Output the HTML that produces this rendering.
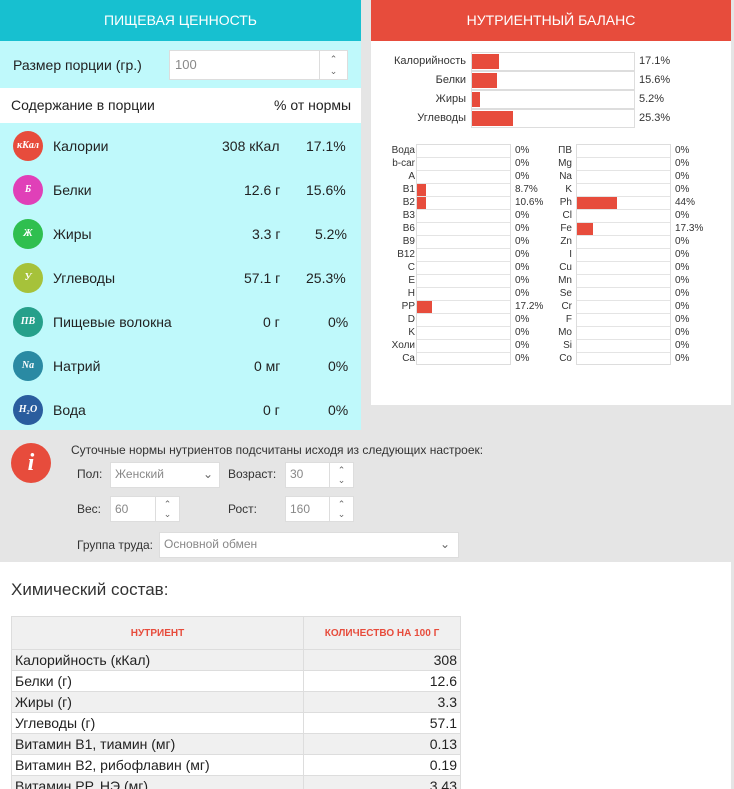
<!DOCTYPE html>
<html><head><meta charset="utf-8"><style>
*{margin:0;padding:0;box-sizing:border-box}
html,body{width:734px;height:789px;overflow:hidden}
body{background:#e5e5e5;font-family:"Liberation Sans","Noto Sans CJK SC",sans-serif;color:#222;position:relative}
.a{position:absolute}
.lp{left:0;top:0;width:361px;height:430px;background:#bff9fb}
.lh{left:0;top:0;width:361px;height:41px;background:#17c0d0;color:#fff;font-size:14px;text-align:center;line-height:41px}
.rp{left:371px;top:0;width:360px;height:405px;background:#fff}
.rh{left:371px;top:0;width:360px;height:41px;background:#e74c3c;color:#fff;font-size:14px;text-align:center;line-height:41px}
.ic{width:30px;height:30px;border-radius:50%;color:#fff;font-family:"Liberation Serif",serif;font-style:italic;font-weight:bold;font-size:10px;text-align:center;line-height:30px}
.rw{font-size:14px}
.box{border:1px solid #ddd;background:#fff}
.bar{background:#e74c3c;position:absolute;left:0;top:1px;bottom:1px}
.sl{font-size:11px;color:#333;text-align:right}
.sm{font-size:10px;color:#333}
.inp{background:#fff;border:1px solid #ddd;font-size:13px;color:#888}
.spin{position:absolute;right:0;top:0;bottom:0;border-left:1px solid #ddd;font-size:9px;color:#666;text-align:center;line-height:12px;padding-top:2px}
table{border-collapse:collapse}
td{border:1px solid #ddd;font-size:14px;height:21px;line-height:19px;padding:0 3px;white-space:nowrap}
</style></head><body>
<div class="a lp"></div>
<div class="a lh">ПИЩЕВАЯ ЦЕННОСТЬ</div>
<div class="a" style="left:13px;top:57px;font-size:14px">Размер порции (гр.)</div>
<div class="a inp" style="left:169px;top:50px;width:179px;height:30px;line-height:28px;padding-left:5px">100<div class="spin" style="width:28px">⌃<br>⌄</div></div>
<div class="a" style="left:0;top:88px;width:361px;height:35px;background:#fff"></div>
<div class="a" style="left:11px;top:97px;font-size:14px">Содержание в порции</div>
<div class="a" style="left:274px;top:97px;font-size:14px">% от нормы</div>

<div class="a ic" style="left:13px;top:131px;background:#e74c3c">кКал</div>
<div class="a rw" style="left:53px;top:138px">Калории</div><div class="a rw" style="left:222px;top:138px">308 кКал</div><div class="a rw" style="left:306px;top:138px">17.1%</div>
<div class="a ic" style="left:13px;top:175px;background:#e040b8">Б</div>
<div class="a rw" style="left:53px;top:182px">Белки</div><div class="a rw" style="left:244px;top:182px">12.6 г</div><div class="a rw" style="left:306px;top:182px">15.6%</div>
<div class="a ic" style="left:13px;top:219px;background:#2fbf4f">Ж</div>
<div class="a rw" style="left:53px;top:226px">Жиры</div><div class="a rw" style="left:252px;top:226px">3.3 г</div><div class="a rw" style="left:315px;top:226px">5.2%</div>
<div class="a ic" style="left:13px;top:263px;background:#a6c23a">У</div>
<div class="a rw" style="left:53px;top:270px">Углеводы</div><div class="a rw" style="left:244px;top:270px">57.1 г</div><div class="a rw" style="left:306px;top:270px">25.3%</div>
<div class="a ic" style="left:13px;top:307px;background:#26a08a">ПВ</div>
<div class="a rw" style="left:53px;top:314px">Пищевые волокна</div><div class="a rw" style="left:263px;top:314px">0 г</div><div class="a rw" style="left:328px;top:314px">0%</div>
<div class="a ic" style="left:13px;top:351px;background:#2a8aa3">Na</div>
<div class="a rw" style="left:53px;top:358px">Натрий</div><div class="a rw" style="left:254px;top:358px">0 мг</div><div class="a rw" style="left:328px;top:358px">0%</div>
<div class="a ic" style="left:13px;top:395px;background:#2a5d9e">H₂O</div>
<div class="a rw" style="left:53px;top:402px">Вода</div><div class="a rw" style="left:263px;top:402px">0 г</div><div class="a rw" style="left:328px;top:402px">0%</div>

<div class="a rp"></div>
<div class="a rh">НУТРИЕНТНЫЙ БАЛАНС</div>
<div class="a sl" style="left:371px;top:55px;width:95px">Калорийность</div><div class="a box" style="left:471px;top:52px;width:164px;height:19px"><div class="bar" style="width:27px"></div></div><div class="a sl" style="left:639px;top:55px">17.1%</div>
<div class="a sl" style="left:371px;top:74px;width:95px">Белки</div><div class="a box" style="left:471px;top:71px;width:164px;height:19px"><div class="bar" style="width:25px"></div></div><div class="a sl" style="left:639px;top:74px">15.6%</div>
<div class="a sl" style="left:371px;top:93px;width:95px">Жиры</div><div class="a box" style="left:471px;top:90px;width:164px;height:19px"><div class="bar" style="width:8px"></div></div><div class="a sl" style="left:639px;top:93px">5.2%</div>
<div class="a sl" style="left:371px;top:112px;width:95px">Углеводы</div><div class="a box" style="left:471px;top:109px;width:164px;height:19px"><div class="bar" style="width:41px"></div></div><div class="a sl" style="left:639px;top:112px">25.3%</div>

<div class="a" style="left:371px;top:144px;width:360px">
<div style="position:absolute;left:0;top:0;width:44px" class="sm">
<div style="height:13px;line-height:13px;text-align:right">Вода</div><div style="height:13px;line-height:13px;text-align:right;overflow:hidden;white-space:nowrap">b-car</div><div style="height:13px;line-height:13px;text-align:right">A</div><div style="height:13px;line-height:13px;text-align:right">B1</div><div style="height:13px;line-height:13px;text-align:right">B2</div><div style="height:13px;line-height:13px;text-align:right">B3</div><div style="height:13px;line-height:13px;text-align:right">B6</div><div style="height:13px;line-height:13px;text-align:right">B9</div><div style="height:13px;line-height:13px;text-align:right">B12</div><div style="height:13px;line-height:13px;text-align:right">C</div><div style="height:13px;line-height:13px;text-align:right">E</div><div style="height:13px;line-height:13px;text-align:right">H</div><div style="height:13px;line-height:13px;text-align:right">PP</div><div style="height:13px;line-height:13px;text-align:right">D</div><div style="height:13px;line-height:13px;text-align:right">K</div><div style="height:13px;line-height:13px;text-align:right">Холи</div><div style="height:13px;line-height:13px;text-align:right">Ca</div>
</div>
<div style="position:absolute;left:144px;top:0;width:57px" class="sm">
<div style="height:13px;line-height:13px;text-align:right">ПВ</div><div style="height:13px;line-height:13px;text-align:right">Mg</div><div style="height:13px;line-height:13px;text-align:right">Na</div><div style="height:13px;line-height:13px;text-align:right">K</div><div style="height:13px;line-height:13px;text-align:right">Ph</div><div style="height:13px;line-height:13px;text-align:right">Cl</div><div style="height:13px;line-height:13px;text-align:right">Fe</div><div style="height:13px;line-height:13px;text-align:right">Zn</div><div style="height:13px;line-height:13px;text-align:right">I</div><div style="height:13px;line-height:13px;text-align:right">Cu</div><div style="height:13px;line-height:13px;text-align:right">Mn</div><div style="height:13px;line-height:13px;text-align:right">Se</div><div style="height:13px;line-height:13px;text-align:right">Cr</div><div style="height:13px;line-height:13px;text-align:right">F</div><div style="height:13px;line-height:13px;text-align:right">Mo</div><div style="height:13px;line-height:13px;text-align:right">Si</div><div style="height:13px;line-height:13px;text-align:right">Co</div>
</div>
<svg style="position:absolute;left:0;top:0" width="360" height="222">
<g fill="#fff" stroke="#ddd" stroke-width="1">
<rect x="45.5" y="0.5" width="94" height="220"/><rect x="205.5" y="0.5" width="94" height="220"/>
</g>
<g stroke="#e4e4e4"><line x1="46" x2="139" y1="13.5" y2="13.5"/><line x1="46" x2="139" y1="26.5" y2="26.5"/><line x1="46" x2="139" y1="39.5" y2="39.5"/><line x1="46" x2="139" y1="52.5" y2="52.5"/><line x1="46" x2="139" y1="65.5" y2="65.5"/><line x1="46" x2="139" y1="78.5" y2="78.5"/><line x1="46" x2="139" y1="91.5" y2="91.5"/><line x1="46" x2="139" y1="104.5" y2="104.5"/><line x1="46" x2="139" y1="117.5" y2="117.5"/><line x1="46" x2="139" y1="130.5" y2="130.5"/><line x1="46" x2="139" y1="143.5" y2="143.5"/><line x1="46" x2="139" y1="156.5" y2="156.5"/><line x1="46" x2="139" y1="169.5" y2="169.5"/><line x1="46" x2="139" y1="182.5" y2="182.5"/><line x1="46" x2="139" y1="195.5" y2="195.5"/><line x1="46" x2="139" y1="208.5" y2="208.5"/>
<line x1="206" x2="299" y1="13.5" y2="13.5"/><line x1="206" x2="299" y1="26.5" y2="26.5"/><line x1="206" x2="299" y1="39.5" y2="39.5"/><line x1="206" x2="299" y1="52.5" y2="52.5"/><line x1="206" x2="299" y1="65.5" y2="65.5"/><line x1="206" x2="299" y1="78.5" y2="78.5"/><line x1="206" x2="299" y1="91.5" y2="91.5"/><line x1="206" x2="299" y1="104.5" y2="104.5"/><line x1="206" x2="299" y1="117.5" y2="117.5"/><line x1="206" x2="299" y1="130.5" y2="130.5"/><line x1="206" x2="299" y1="143.5" y2="143.5"/><line x1="206" x2="299" y1="156.5" y2="156.5"/><line x1="206" x2="299" y1="169.5" y2="169.5"/><line x1="206" x2="299" y1="182.5" y2="182.5"/><line x1="206" x2="299" y1="195.5" y2="195.5"/><line x1="206" x2="299" y1="208.5" y2="208.5"/></g>
<g fill="#e74c3c"><rect x="46" y="40" width="9" height="12"/><rect x="46" y="53" width="9" height="12"/><rect x="46" y="157" width="15" height="12"/><rect x="206" y="53" width="40" height="12"/><rect x="206" y="79" width="16" height="12"/></g>
</svg>
<div style="position:absolute;left:144px;top:0" class="sm">
<div style="height:13px;line-height:13px">0%</div><div style="height:13px;line-height:13px">0%</div><div style="height:13px;line-height:13px">0%</div><div style="height:13px;line-height:13px">8.7%</div><div style="height:13px;line-height:13px">10.6%</div><div style="height:13px;line-height:13px">0%</div><div style="height:13px;line-height:13px">0%</div><div style="height:13px;line-height:13px">0%</div><div style="height:13px;line-height:13px">0%</div><div style="height:13px;line-height:13px">0%</div><div style="height:13px;line-height:13px">0%</div><div style="height:13px;line-height:13px">0%</div><div style="height:13px;line-height:13px">17.2%</div><div style="height:13px;line-height:13px">0%</div><div style="height:13px;line-height:13px">0%</div><div style="height:13px;line-height:13px">0%</div><div style="height:13px;line-height:13px">0%</div>
</div>
<div style="position:absolute;left:304px;top:0" class="sm">
<div style="height:13px;line-height:13px">0%</div><div style="height:13px;line-height:13px">0%</div><div style="height:13px;line-height:13px">0%</div><div style="height:13px;line-height:13px">0%</div><div style="height:13px;line-height:13px">44%</div><div style="height:13px;line-height:13px">0%</div><div style="height:13px;line-height:13px">17.3%</div><div style="height:13px;line-height:13px">0%</div><div style="height:13px;line-height:13px">0%</div><div style="height:13px;line-height:13px">0%</div><div style="height:13px;line-height:13px">0%</div><div style="height:13px;line-height:13px">0%</div><div style="height:13px;line-height:13px">0%</div><div style="height:13px;line-height:13px">0%</div><div style="height:13px;line-height:13px">0%</div><div style="height:13px;line-height:13px">0%</div><div style="height:13px;line-height:13px">0%</div>
</div>
</div>

<div class="a" style="left:11px;top:443px;width:40px;height:40px;border-radius:50%;background:#e74c3c;color:#fff;font-family:'Liberation Serif',serif;font-style:italic;font-weight:bold;font-size:24px;text-align:center;line-height:40px">i</div>
<div class="a" style="left:71px;top:443px;font-size:12px;color:#333">Суточные нормы нутриентов подсчитаны исходя из следующих настроек:</div>
<div class="a" style="left:77px;top:467px;font-size:12px;color:#333">Пол:</div>
<div class="a inp" style="left:110px;top:462px;width:110px;height:26px;line-height:22px;padding-left:4px;font-size:12px">Женский<span style="position:absolute;right:6px;top:0;color:#666">⌄</span></div>
<div class="a" style="left:228px;top:467px;font-size:12px;color:#333">Возраст:</div>
<div class="a inp" style="left:285px;top:462px;width:69px;height:26px;line-height:22px;padding-left:4px;font-size:12px">30<div class="spin" style="width:24px;line-height:10px">⌃<br>⌄</div></div>
<div class="a" style="left:77px;top:502px;font-size:12px;color:#333">Вес:</div>
<div class="a inp" style="left:110px;top:496px;width:70px;height:26px;line-height:24px;padding-left:4px;font-size:12px">60<div class="spin" style="width:24px;line-height:10px">⌃<br>⌄</div></div>
<div class="a" style="left:228px;top:502px;font-size:12px;color:#333">Рост:</div>
<div class="a inp" style="left:285px;top:496px;width:69px;height:26px;line-height:24px;padding-left:4px;font-size:12px">160<div class="spin" style="width:24px;line-height:10px">⌃<br>⌄</div></div>
<div class="a" style="left:77px;top:538px;font-size:12px;color:#333">Группа труда:</div>
<div class="a inp" style="left:159px;top:532px;width:300px;height:26px;line-height:22px;padding-left:4px;font-size:12px">Основной обмен<span style="position:absolute;right:8px;top:0;color:#666">⌄</span></div>

<div class="a" style="left:0;top:562px;width:731px;height:227px;background:#fff"></div>
<div class="a" style="left:11px;top:580px;font-size:17px;color:#333">Химический состав:</div>
<table class="a" style="left:11px;top:616px;width:450px">
<tr style="background:#f0f0f0"><td style="height:33px;width:292px;text-align:center;color:#e74c3c;font-size:10px;font-weight:bold">НУТРИЕНТ</td><td style="text-align:center;color:#e74c3c;font-size:10px;font-weight:bold">КОЛИЧЕСТВО НА 100 Г</td></tr>
<tr style="background:#f0f0f0"><td style="height:21px">Калорийность (кКал)</td><td style="text-align:right">308</td></tr>
<tr><td style="height:21px">Белки (г)</td><td style="text-align:right">12.6</td></tr>
<tr style="background:#f0f0f0"><td style="height:21px">Жиры (г)</td><td style="text-align:right">3.3</td></tr>
<tr><td style="height:21px">Углеводы (г)</td><td style="text-align:right">57.1</td></tr>
<tr style="background:#f0f0f0"><td style="height:21px">Витамин B1, тиамин (мг)</td><td style="text-align:right">0.13</td></tr>
<tr><td style="height:21px">Витамин B2, рибофлавин (мг)</td><td style="text-align:right">0.19</td></tr>
<tr style="background:#f0f0f0"><td style="height:21px">Витамин PP, НЭ (мг)</td><td style="text-align:right">3.43</td></tr>
</table>
</body></html>
